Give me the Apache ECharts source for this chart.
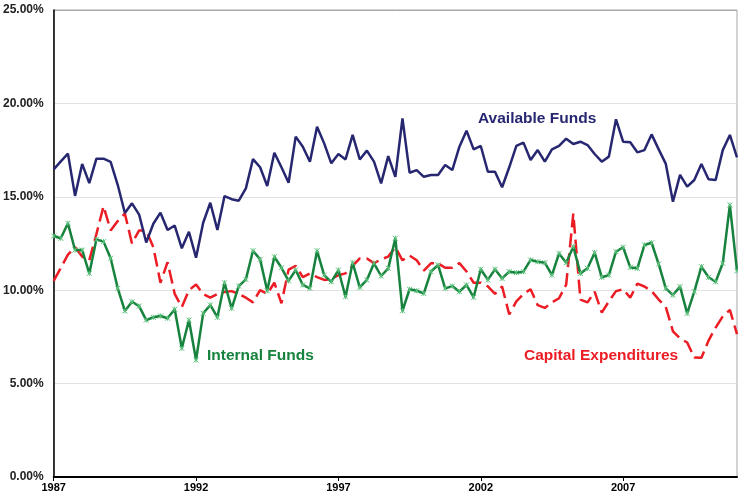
<!DOCTYPE html>
<html>
<head>
<meta charset="utf-8">
<script src="https://cdn.jsdelivr.net/npm/echarts@6/dist/echarts.min.js"></script>
<style>
html,body{margin:0;padding:0;background:#fff;}
#chart{width:738px;height:493px;}
</style>
</head>
<body>
<div id="chart"></div>
<script>
// Quarterly observations, 1987Q1 .. 2011Q1 (index 0 = 1987Q1)
var startYear = 1987;
var tickLabels = ['1987', '1992', '1997', '2002', '2007'];
var yTickLabels = ['0.00%', '5.00%', '10.00%', '15.00%', '20.00%', '25.00%'];

var availableFunds = [16.47, 16.9, 17.31, 15.05, 16.76, 15.73, 17.04, 17.04, 16.87, 15.63,
  14.13, 14.65, 14.05, 12.55, 13.56, 14.15, 13.22, 13.46, 12.24, 13.13,
  11.74, 13.61, 14.68, 13.22, 15.04, 14.87, 14.79, 15.45, 17.02, 16.58,
  15.58, 17.36, 16.58, 15.75, 18.22, 17.68, 16.88, 18.75, 17.86, 16.79,
  17.29, 17.0, 18.31, 17.0, 17.47, 16.88, 15.72, 17.18, 16.07, 19.2,
  16.29, 16.43, 16.07, 16.17, 16.17, 16.70, 16.43, 17.68, 18.54, 17.54,
  17.72, 16.34, 16.34, 15.51, 16.58, 17.73, 17.9, 16.97, 17.5, 16.88,
  17.54, 17.72, 18.11, 17.83, 17.95, 17.77, 17.29, 16.88, 17.15, 19.15,
  17.95, 17.92, 17.38, 17.5, 18.34, 17.54, 16.76, 14.74, 16.17, 15.54,
  15.9, 16.76, 15.94, 15.9, 17.5, 18.31, 17.11];

var internalFunds = [12.9, 12.78, 13.58, 12.15, 12.15, 10.9, 12.72, 12.6, 11.71, 10.1,
  8.89, 9.38, 9.15, 8.4, 8.55, 8.62, 8.5, 8.98, 6.89, 8.4,
  6.26, 8.76, 9.21, 8.55, 10.4, 9.03, 10.22, 10.58, 12.11, 11.65,
  9.97, 11.79, 11.2, 10.5, 11.08, 10.28, 10.1, 12.11, 10.81, 10.45,
  11.08, 9.65, 11.47, 10.15, 10.55, 11.44, 10.76, 11.17, 12.78, 8.9,
  10.05, 9.97, 9.83, 10.99, 11.35, 10.1, 10.22, 9.92, 10.28, 9.62,
  11.12, 10.55, 11.12, 10.63, 10.99, 10.94, 10.99, 11.62, 11.52, 11.47,
  10.81, 11.97, 11.47, 12.33, 10.9, 11.17, 12.01, 10.69, 10.81, 12.06,
  12.3, 11.22, 11.17, 12.42, 12.54, 11.4, 10.1, 9.74, 10.19, 8.76,
  9.92, 11.26, 10.69, 10.45, 11.44, 14.56, 11.04];

var capitalExpenditures = [10.5, 11.2, 11.9, 12.3, 11.8, 11.6, 13.0, 14.5, 13.2, 13.7,
  14.1, 12.5, 13.2, 13.2, 12.3, 10.4, 11.5, 9.8, 9.1, 10.0,
  10.3, 9.8, 9.6, 9.8, 9.9, 9.95, 9.8, 9.6, 9.35, 10.0,
  9.8, 10.4, 9.3, 11.1, 11.3, 10.7, 10.9, 10.7, 10.55, 10.6,
  10.8, 10.9, 11.3, 11.7, 11.7, 11.45, 11.65, 11.8, 12.3, 11.6,
  11.85, 11.6, 11.05, 11.44, 11.44, 11.2, 11.2, 11.45, 11.0, 10.4,
  10.4, 10.2, 9.8, 10.2, 8.7, 9.4, 9.8, 10.05, 9.2, 9.05,
  9.35, 9.57, 10.3, 14.1, 9.5, 9.35, 9.92, 8.8, 9.4, 9.95,
  10.05, 9.6, 10.35, 10.2, 9.95, 9.5, 9.1, 7.8, 7.42, 7.2,
  6.4, 6.38, 7.3, 8.0, 8.6, 8.95, 7.65];

var tickPositions = tickLabels.map(function (t) { return (parseInt(t, 10) - startYear) * 4; });

function pairs(arr) { return arr.map(function (v, i) { return [i, v]; }); }

var chart = echarts.init(document.getElementById('chart'), null, {renderer: 'canvas'});
var labelFont = 'Liberation Sans, Arial, sans-serif';

chart.setOption({
  animation: false,
  backgroundColor: '#ffffff',
  grid: {left: 52, right: 1, top: 10, bottom: 16, show: true, borderColor: '#a8a8a8', borderWidth: 1, backgroundColor: 'transparent'},
  xAxis: {
    type: 'value', min: 0, max: availableFunds.length - 1, interval: 20,
    axisLine: {show: true, onZero: false, lineStyle: {color: '#000', width: 2}},
    axisTick: {show: true, length: 4, customValues: tickPositions, lineStyle: {color: '#000', width: 1}},
    splitLine: {show: false},
    axisLabel: {
      margin: 5, color: '#000', fontWeight: 'bold', fontSize: 11, fontFamily: labelFont,
      customValues: tickPositions,
      formatter: function (v) { return tickLabels[Math.round(v / 20)] || ''; }
    }
  },
  yAxis: {
    type: 'value', min: 0, max: 25, interval: 5,
    axisLine: {show: true, lineStyle: {color: '#000', width: 1.5}},
    axisTick: {show: false},
    splitLine: {show: true, lineStyle: {color: ['#e2e2e2', '#e2e2e2', '#e2e2e2', '#e2e2e2', '#e2e2e2', '#a8a8a8'], width: 1}},
    axisLabel: {
      margin: 10, color: '#222', fontWeight: 'bold', fontSize: 12, fontFamily: labelFont,
      formatter: function (v) { return yTickLabels[Math.round(v / 5)]; }
    }
  },
  series: [
    {
      name: 'Capital Expenditures', type: 'line', data: pairs(capitalExpenditures),
      showSymbol: false, symbol: 'none', z: 2,
      lineStyle: {color: '#ec1c24', width: 2.5, type: [14, 6]}
    },
    {
      name: 'Internal Funds', type: 'line', data: pairs(internalFunds), z: 3,
      symbol: 'path://M0,0L10,10M10,0L0,10M5,0L5,10', symbolSize: 5, showSymbol: true,
      itemStyle: {color: '#2e9a55', borderColor: '#5cc27c', borderWidth: 1},
      lineStyle: {color: '#16823d', width: 2.5}
    },
    {
      name: 'Available Funds', type: 'line', data: pairs(availableFunds), z: 4,
      showSymbol: false, symbol: 'none',
      lineStyle: {color: '#262770', width: 2.5}
    }
  ],
  graphic: [
    {type: 'text', left: 478, top: 111, z: 10,
      style: {text: 'Available Funds', fill: '#262770', font: 'bold 15.5px ' + labelFont}},
    {type: 'text', left: 207, top: 348, z: 10,
      style: {text: 'Internal Funds', fill: '#16823d', font: 'bold 15.5px ' + labelFont}},
    {type: 'text', left: 524, top: 348, z: 10,
      style: {text: 'Capital Expenditures', fill: '#ec1c24', font: 'bold 15.5px ' + labelFont}}
  ]
});
</script>
</body>
</html>
